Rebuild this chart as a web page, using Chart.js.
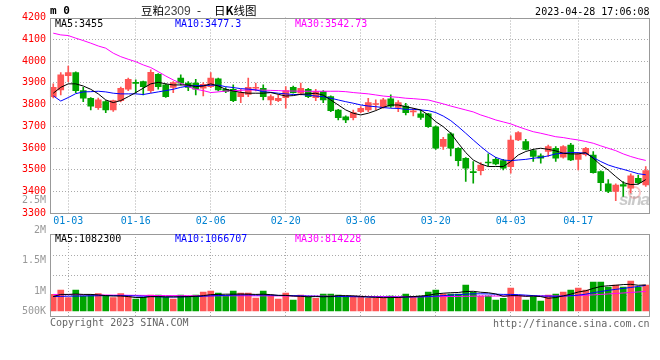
<!DOCTYPE html>
<html>
<head>
<meta charset="utf-8">
<title>豆粕2309 - 日K线图</title>
<script src="https://cdn.jsdelivr.net/npm/chart.js@4.4.1/dist/chart.umd.min.js"></script>
<style>
  body { margin: 0; background: #fff; }
  #wrap { position: relative; width: 660px; height: 360px; overflow: hidden; background: #fff; }
  #wrap canvas { position: absolute; left: 0; top: 0; }
  .txt { position: absolute; font: 10px "DejaVu Sans Mono", monospace; line-height: 12px; white-space: nowrap; color: #000; }
  .cjk { position: absolute; font: 11.5px "Noto Sans CJK SC", sans-serif; line-height: 14px; white-space: nowrap; color: #000; }
  .leg { background: #fff; }
  .yl { left: 0; width: 46px; text-align: right; color: #999; }
</style>
</head>
<body>
<div id="wrap">
  <canvas id="kChart" width="660" height="360"></canvas>
  <canvas id="volChart" width="660" height="360"></canvas>
  <div class="txt" style="left:50px;top:5px;font-size:11px;font-weight:bold">m 0</div>
  <div class="cjk" style="left:141px;top:3px">豆粕<span style="font:12px 'Liberation Sans',Arial,sans-serif;color:#444">2309</span></div>
  <div class="cjk" style="left:197px;top:3px">-</div>
  <div class="cjk" style="left:214px;top:3px">日<b>K</b>线图</div>
  <div class="txt" style="right:10.5px;top:6px">2023-04-28 17:06:08</div>
  <div class="txt" style="left:50px;top:317px;color:#666">Copyright 2023 SINA.COM</div>
  <div class="txt" style="right:10.5px;top:318px;color:#666">http://finance.sina.com.cn</div>
  <div style="position:absolute;left:628px;top:186px;width:9px;height:9px;border:2px solid rgba(240,110,110,0.4);border-radius:50%"></div>
  <div style="position:absolute;left:619px;top:190px;font:italic bold 17px 'Liberation Sans',Arial,sans-serif;letter-spacing:-1px;color:rgba(150,150,150,0.5)">sina</div>
</div>
<script>
// trading days shown (12-29 .. 04-28)
const dates = [
  '12-29','12-30','01-03','01-04','01-05','01-06','01-09','01-10','01-11','01-12',
  '01-13','01-16','01-17','01-18','01-19','01-20','01-30','01-31','02-01','02-02',
  '02-03','02-06','02-07','02-08','02-09','02-10','02-13','02-14','02-15','02-16',
  '02-17','02-20','02-21','02-22','02-23','02-24','02-27','02-28','03-01','03-02',
  '03-03','03-06','03-07','03-08','03-09','03-10','03-13','03-14','03-15','03-16',
  '03-17','03-20','03-21','03-22','03-23','03-24','03-27','03-28','03-29','03-30',
  '03-31','04-03','04-04','04-06','04-07','04-10','04-11','04-12','04-13','04-14',
  '04-17','04-18','04-19','04-20','04-21','04-24','04-25','04-26','04-27','04-28'
];
const xTickDates = ['01-03', '01-16', '02-06', '02-20', '03-06', '03-20', '04-03', '04-17'];

// OHLC
const opens = [
  3836, 3867, 3933, 3947, 3864, 3829, 3786, 3813, 3775, 3818,
  3870, 3900, 3905, 3864, 3939, 3890, 3879, 3921, 3898, 3898,
  3875, 3882, 3918, 3870, 3870, 3836, 3847, 3875, 3875, 3821,
  3818, 3832, 3879, 3852, 3870, 3832, 3859, 3836, 3775, 3744,
  3740, 3767, 3775, 3800, 3787, 3826, 3787, 3793, 3766, 3757,
  3757, 3698, 3607, 3665, 3599, 3553, 3489, 3496, 3533, 3548,
  3542, 3514, 3637, 3630, 3588, 3564, 3584, 3599, 3558, 3614,
  3548, 3569, 3568, 3492, 3435, 3400, 3432, 3415, 3461, 3430
];
const highs = [
  3895, 3947, 3977, 3950, 3879, 3832, 3830, 3818, 3820, 3880,
  3921, 3913, 3908, 3959, 3942, 3895, 3905, 3936, 3905, 3916,
  3901, 3947, 3921, 3878, 3890, 3870, 3921, 3898, 3890, 3844,
  3844, 3882, 3885, 3898, 3875, 3870, 3864, 3840, 3778, 3748,
  3775, 3790, 3829, 3821, 3829, 3844, 3818, 3806, 3783, 3775,
  3760, 3702, 3649, 3671, 3602, 3556, 3538, 3533, 3573, 3557,
  3548, 3656, 3676, 3640, 3594, 3573, 3614, 3607, 3611, 3622,
  3579, 3603, 3584, 3495, 3455, 3435, 3446, 3481, 3476, 3515
];
const lows = [
  3830, 3844, 3905, 3855, 3813, 3775, 3778, 3763, 3768, 3812,
  3864, 3852, 3844, 3855, 3870, 3833, 3855, 3890, 3864, 3844,
  3839, 3878, 3862, 3855, 3813, 3809, 3836, 3862, 3821, 3798,
  3813, 3783, 3852, 3844, 3832, 3818, 3809, 3767, 3729, 3717,
  3729, 3763, 3767, 3775, 3783, 3787, 3767, 3752, 3748, 3732,
  3695, 3594, 3594, 3564, 3518, 3446, 3438, 3476, 3518, 3522,
  3499, 3484, 3634, 3591, 3538, 3530, 3561, 3538, 3553, 3542,
  3499, 3564, 3484, 3404, 3395, 3358, 3377, 3392, 3435, 3423
];
const closes = [
  3879, 3936, 3947, 3864, 3829, 3793, 3821, 3775, 3818, 3875,
  3916, 3897, 3882, 3948, 3882, 3836, 3901, 3898, 3879, 3870,
  3893, 3921, 3867, 3860, 3818, 3855, 3879, 3878, 3836, 3836,
  3829, 3864, 3855, 3875, 3836, 3859, 3821, 3772, 3740, 3729,
  3763, 3783, 3809, 3803, 3821, 3793, 3809, 3763, 3768, 3741,
  3698, 3599, 3640, 3599, 3542, 3507, 3487, 3522, 3531, 3527,
  3507, 3637, 3671, 3594, 3561, 3553, 3607, 3553, 3607, 3545,
  3573, 3599, 3487, 3441, 3400, 3430, 3425, 3472, 3441, 3496
];

// price moving averages
const ma5 = [
  3852, 3879, 3895, 3895, 3885, 3870, 3849, 3821, 3809, 3818,
  3836, 3855, 3875, 3895, 3902, 3895, 3890, 3890, 3890, 3882,
  3885, 3895, 3885, 3870, 3862, 3856, 3852, 3852, 3852, 3855,
  3847, 3839, 3841, 3847, 3849, 3852, 3843, 3821, 3798, 3775,
  3760, 3752, 3760, 3772, 3787, 3798, 3798, 3790, 3783, 3775,
  3752, 3721, 3698, 3668, 3622, 3579, 3545, 3527, 3515, 3515,
  3515, 3538, 3568, 3584, 3594, 3599, 3594, 3587, 3576, 3573,
  3573, 3579, 3553, 3522, 3499, 3469, 3441, 3432, 3434, 3455
];
const ma10 = [
  3840, 3816, 3832, 3850, 3858, 3859, 3861, 3858, 3852, 3849,
  3849, 3849, 3846, 3852, 3858, 3864, 3870, 3879, 3885, 3887,
  3887, 3889, 3889, 3882, 3878, 3873, 3871, 3867, 3859, 3856,
  3852, 3849, 3846, 3846, 3843, 3839, 3836, 3829, 3821, 3813,
  3806, 3798, 3793, 3790, 3786, 3783, 3782, 3778, 3778, 3775,
  3772, 3763, 3747, 3726, 3698, 3668, 3637, 3607, 3579, 3557,
  3545, 3542, 3545, 3548, 3553, 3557, 3564, 3573, 3576, 3579,
  3579, 3576, 3556, 3538, 3522, 3511, 3502, 3492, 3482, 3477
];
const ma30 = [
  4128, 4120, 4117, 4105, 4094, 4082, 4069, 4059, 4036, 4020,
  4008, 3997, 3982, 3970, 3951, 3931, 3913, 3898, 3882, 3870,
  3864, 3855, 3858, 3862, 3864, 3865, 3867, 3867, 3866, 3865,
  3864, 3862, 3862, 3861, 3861, 3861, 3861, 3861, 3861, 3859,
  3855, 3852, 3849, 3844, 3839, 3836, 3833, 3829, 3827, 3824,
  3821, 3812, 3803, 3793, 3784, 3775, 3766, 3752, 3741, 3729,
  3720, 3711, 3698, 3686, 3675, 3668, 3660, 3652, 3648, 3642,
  3637, 3630, 3622, 3610, 3599, 3588, 3573, 3561, 3551, 3543
];

// volume (lots) and its moving averages
const volumes = [
  694000, 874000, 555000, 874000, 624000, 694000, 721000, 638000, 555000, 721000,
  624000, 499000, 569000, 666000, 666000, 569000, 499000, 666000, 596000, 666000,
  791000, 832000, 749000, 638000, 832000, 749000, 749000, 541000, 832000, 666000,
  499000, 749000, 458000, 666000, 596000, 527000, 707000, 707000, 666000, 596000,
  596000, 596000, 527000, 527000, 527000, 624000, 555000, 707000, 596000, 624000,
  791000, 874000, 707000, 707000, 707000, 1082000, 777000, 624000, 624000, 458000,
  527000, 957000, 624000, 458000, 596000, 416000, 666000, 707000, 791000, 874000,
  957000, 874000, 1207000, 1207000, 999000, 1082000, 999000, 1248000, 999000, 1082000
];
const volMa5 = [
  600000, 690000, 690000, 705000, 690000, 690000, 670000, 640000, 625000, 625000,
  600000, 560000, 560000, 600000, 600000, 590000, 590000, 590000, 600000, 610000,
  640000, 680000, 690000, 700000, 700000, 705000, 700000, 690000, 700000, 680000,
  650000, 650000, 620000, 610000, 590000, 600000, 590000, 600000, 640000, 640000,
  630000, 610000, 580000, 570000, 555000, 560000, 560000, 585000, 600000, 620000,
  655000, 710000, 740000, 760000, 770000, 810000, 820000, 780000, 760000, 710000,
  610000, 640000, 640000, 610000, 620000, 600000, 530000, 560000, 630000, 700000,
  790000, 840000, 940000, 1020000, 1050000, 1070000, 1100000, 1110000, 1070000, 1082300
];
const volMa10 = [
  600000, 610000, 615000, 620000, 625000, 630000, 635000, 640000, 640000, 640000,
  635000, 625000, 615000, 600000, 590000, 585000, 580000, 590000, 595000, 600000,
  615000, 630000, 640000, 650000, 660000, 665000, 670000, 665000, 665000, 660000,
  650000, 645000, 640000, 630000, 620000, 615000, 605000, 600000, 600000, 600000,
  595000, 590000, 585000, 580000, 575000, 575000, 575000, 580000, 585000, 590000,
  600000, 620000, 640000, 660000, 680000, 700000, 715000, 715000, 710000, 700000,
  690000, 690000, 680000, 660000, 640000, 620000, 620000, 610000, 620000, 640000,
  660000, 700000, 760000, 810000, 860000, 900000, 940000, 980000, 1020000, 1066707
];
const volMa30 = [
  690000, 685000, 680000, 680000, 675000, 670000, 668000, 665000, 660000, 658000,
  655000, 652000, 650000, 648000, 645000, 642000, 640000, 638000, 636000, 635000,
  634000, 633000, 633000, 632000, 632000, 632000, 632000, 630000, 630000, 630000,
  628000, 626000, 624000, 622000, 620000, 618000, 616000, 614000, 612000, 610000,
  608000, 606000, 604000, 602000, 600000, 598000, 596000, 594000, 594000, 594000,
  596000, 598000, 600000, 602000, 604000, 610000, 616000, 620000, 622000, 622000,
  624000, 628000, 630000, 630000, 630000, 628000, 626000, 626000, 628000, 632000,
  642000, 655000, 672000, 690000, 710000, 730000, 750000, 770000, 792000, 814228
];

// axis ticks and legend texts
const priceTicks = [3300, 3400, 3500, 3600, 3700, 3800, 3900, 4000, 4100, 4200];
const volGridTicks = [2310000, 1480000, 625000];
const volAxisLabels = ['2.5M', '2M', '1.5M', '1M', '500K'];
const maLegend = ['MA5:3455', 'MA10:3477.3', 'MA30:3542.73'];
const volMaLegend = ['MA5:1082300', 'MA10:1066707', 'MA30:814228'];

const upColor = '#ff5555';
const downColor = '#00a400';
const maColors = ['#000000', '#0000ff', '#ff00ff'];
const gridColor = '#aaaaaa';
const monoFont = { family: '"DejaVu Sans Mono", monospace', size: 10 };

const candleColors = closes.map((c, i) => c >= opens[i] ? upColor : downColor);

// gray frame round the plot area
const framePlugin = {
    id: 'frame',
    afterDatasetsDraw(chart) {
        const a = chart.chartArea;
        const ctx = chart.ctx;
        ctx.save();
        ctx.strokeStyle = '#999';
        ctx.lineWidth = 1;
        ctx.strokeRect(Math.round(a.left) + 0.5, Math.round(a.top) + 0.5,
            Math.round(a.right - a.left) - 1, Math.round(a.bottom - a.top) - 1);
        ctx.restore();
    }
};

function xGridColor(c) {
    return xTickDates.includes(dates[c.index]) ? gridColor : 'rgba(0,0,0,0)';
}

function lineSet(label, values, color) {
    return {
        type: 'line', label: label, data: values,
        borderColor: color, borderWidth: 1, pointRadius: 0, tension: 0, order: 0
    };
}

// K-line panel
function buildPriceChart() {
    const ctx = document.getElementById('kChart').getContext('2d');
    return new Chart(ctx, {
        type: 'bar',
        data: {
            labels: dates,
            datasets: [
                lineSet('MA5', ma5, maColors[0]),
                lineSet('MA10', ma10, maColors[1]),
                lineSet('MA30', ma30, maColors[2]),
                {
                    label: 'body', data: opens.map((o, i) => [o, closes[i]]),
                    backgroundColor: candleColors, barThickness: 6, minBarLength: 1,
                    grouped: false, order: 1
                },
                {
                    label: 'wick', data: lows.map((l, i) => [l, highs[i]]),
                    backgroundColor: candleColors, barThickness: 1,
                    grouped: false, order: 2
                }
            ]
        },
        options: {
            responsive: false,
            animation: false,
            devicePixelRatio: 1,
            layout: { padding: { left: 0, right: 10.5, top: 17.5, bottom: 124.7 } },
            plugins: { legend: { display: false }, tooltip: { enabled: false } },
            scales: {
                x: {
                    offset: true,
                    grid: { offset: false, drawTicks: false, color: xGridColor },
                    border: { display: false, dash: [1, 2] },
                    ticks: {
                        autoSkip: false, maxRotation: 0, padding: 2,
                        color: '#0082d2', font: monoFont,
                        callback: (v, i) => xTickDates.includes(dates[i]) ? dates[i] : ''
                    },
                    afterFit: s => { s.height = 22; }
                },
                y: {
                    min: priceTicks[0],
                    max: priceTicks[priceTicks.length - 1],
                    afterBuildTicks: s => { s.ticks = priceTicks.map(v => ({ value: v })); },
                    ticks: { color: '#ff0000', padding: 3.5, font: monoFont, callback: v => String(v) },
                    grid: {
                        drawTicks: false,
                        color: c => (c.tick.value > priceTicks[0] && c.tick.value < priceTicks[priceTicks.length - 1]) ? gridColor : 'rgba(0,0,0,0)'
                    },
                    border: { display: false, dash: [1, 2] },
                    afterFit: s => { s.width = 49.5; }
                }
            }
        },
        plugins: [framePlugin]
    });
}

// volume panel
function buildVolumeChart() {
    const ctx = document.getElementById('volChart').getContext('2d');
    return new Chart(ctx, {
        type: 'bar',
        data: {
            labels: dates,
            datasets: [
                lineSet('MA5', volMa5, maColors[0]),
                lineSet('MA10', volMa10, maColors[1]),
                lineSet('MA30', volMa30, maColors[2]),
                {
                    label: 'volume', data: volumes, backgroundColor: candleColors,
                    barThickness: 6, order: 1
                }
            ]
        },
        options: {
            responsive: false,
            animation: false,
            devicePixelRatio: 1,
            layout: { padding: { left: 0, right: 10.5, top: 234, bottom: 43.3 } },
            plugins: { legend: { display: false }, tooltip: { enabled: false } },
            scales: {
                x: {
                    offset: true,
                    grid: { offset: false, drawTicks: false, color: xGridColor },
                    border: { display: false, dash: [1, 2] },
                    ticks: { display: false },
                    afterFit: s => { s.height = 0; }
                },
                y: {
                    min: -237000,
                    max: 3203000,
                    afterBuildTicks: s => { s.ticks = volGridTicks.map(v => ({ value: v })); },
                    ticks: { display: false },
                    grid: { drawTicks: false, color: gridColor },
                    border: { display: false, dash: [1, 2] },
                    afterFit: s => { s.width = 49.5; }
                }
            }
        },
        plugins: [framePlugin]
    });
}

// legend rows and volume axis texts
function addTexts() {
    const wrap = document.getElementById('wrap');
    const legendX = [55, 175, 295];
    maLegend.forEach((t, i) => {
        const d = document.createElement('div');
        d.className = 'txt leg';
        d.style.cssText = `left:${legendX[i]}px;top:20px;height:8px;line-height:8px;color:${maColors[i]}`;
        d.textContent = t;
        wrap.appendChild(d);
    });
    volMaLegend.forEach((t, i) => {
        const d = document.createElement('div');
        d.className = 'txt leg';
        d.style.cssText = `left:${legendX[i]}px;top:235px;height:7px;line-height:7px;color:${maColors[i]}`;
        d.textContent = t;
        wrap.appendChild(d);
    });
    const labelY = [200, 230, 260, 290.5, 311];
    volAxisLabels.forEach((t, i) => {
        const d = document.createElement('div');
        d.className = 'txt yl';
        d.style.top = (labelY[i] - 6) + 'px';
        d.textContent = t;
        wrap.appendChild(d);
    });
}

buildPriceChart();
buildVolumeChart();
addTexts();
</script>
</body>
</html>
